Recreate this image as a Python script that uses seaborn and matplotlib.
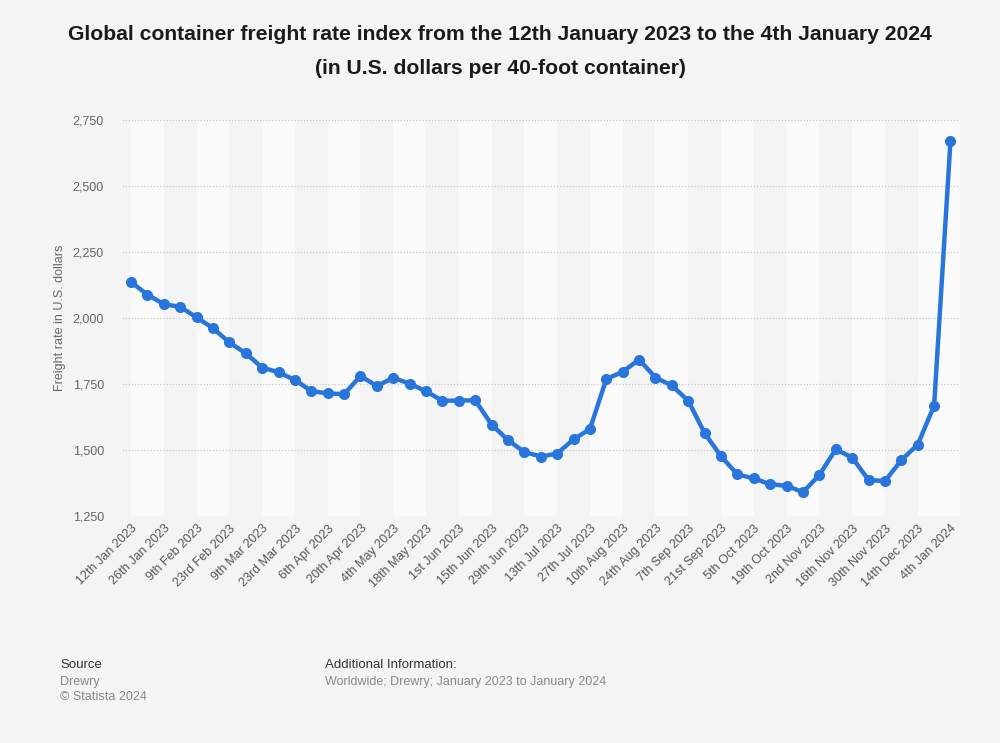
import matplotlib
matplotlib.use("Agg")
import matplotlib.pyplot as plt
import matplotlib.ticker as mticker
import seaborn as sns
import pandas as pd
import numpy as np

# ---- data ----
weeks = [
    "12th Jan 2023", "19th Jan 2023", "26th Jan 2023", "2nd Feb 2023", "9th Feb 2023",
    "16th Feb 2023", "23rd Feb 2023", "2nd Mar 2023", "9th Mar 2023", "16th Mar 2023",
    "23rd Mar 2023", "30th Mar 2023", "6th Apr 2023", "13th Apr 2023", "20th Apr 2023",
    "27th Apr 2023", "4th May 2023", "11th May 2023", "18th May 2023", "25th May 2023",
    "1st Jun 2023", "8th Jun 2023", "15th Jun 2023", "22nd Jun 2023", "29th Jun 2023",
    "6th Jul 2023", "13th Jul 2023", "20th Jul 2023", "27th Jul 2023", "3rd Aug 2023",
    "10th Aug 2023", "17th Aug 2023", "24th Aug 2023", "31st Aug 2023", "7th Sep 2023",
    "14th Sep 2023", "21st Sep 2023", "28th Sep 2023", "5th Oct 2023", "12th Oct 2023",
    "19th Oct 2023", "26th Oct 2023", "2nd Nov 2023", "9th Nov 2023", "16th Nov 2023",
    "23rd Nov 2023", "30th Nov 2023", "7th Dec 2023", "14th Dec 2023", "21st Dec 2023",
    "4th Jan 2024",
]
freight_rate = [
    2135, 2087, 2051, 2041, 2001, 1960, 1906, 1865, 1811, 1793,
    1764, 1722, 1713, 1710, 1779, 1741, 1772, 1750, 1721, 1685,
    1686, 1687, 1595, 1536, 1491, 1474, 1485, 1539, 1578, 1767,
    1795, 1841, 1773, 1743, 1685, 1562, 1475, 1406, 1391, 1369,
    1363, 1339, 1404, 1501, 1470, 1385, 1381, 1460, 1519, 1666,
    2670,
]
y_ticks = [1250, 1500, 1750, 2000, 2250, 2500, 2750]

title_line1 = "Global container freight rate index from the 12th January 2023 to the 4th January 2024"
title_line2 = "(in U.S. dollars per 40-foot container)"
y_label = "Freight rate in U.S. dollars"

df = pd.DataFrame({"week": weeks, "rate": freight_rate})
df["pos"] = np.arange(len(df))

# ---- style ----
BG = "#f4f4f4"
BAND = "#fafafa"
LINE = "#2876dc"
sns.set_theme(style="white")
plt.rcParams["font.family"] = ["Liberation Sans", "DejaVu Sans"]

fig = plt.figure(figsize=(10, 7.43), dpi=100, facecolor=BG)
ax = fig.add_axes([0.122, 0.306, 0.838, 0.533])
ax.set_facecolor(BG)

n = len(df)
xmin, xmax = -0.55, n - 1 + 0.58
# alternating bands, two weeks wide
for k in range(0, n, 4):
    ax.axvspan(k, min(k + 2, xmax) if k + 2 < n - 1 else xmax, color=BAND, lw=0, zorder=0)

sns.lineplot(data=df, x="pos", y="rate", ax=ax, color=LINE, lw=3.2,
             marker="o", markersize=8, markeredgewidth=0, zorder=3)

ax.set_xlim(xmin, xmax)
ax.set_ylim(1250, 2750)
ax.set_yticks(y_ticks)
ax.yaxis.set_major_formatter(mticker.FuncFormatter(lambda v, p: f"{int(v):,}"))
for yv in y_ticks:
    ax.axhline(yv, color="#c8c8c8", lw=0.9, ls=(0, (1, 1.5)), zorder=1)

tick_pos = df["pos"].values[::2]
ax.set_xticks(tick_pos)
ax.set_xticklabels(df["week"].values[::2], rotation=45, ha="right",
                   rotation_mode="anchor", fontsize=9, color="#555555")
ax.tick_params(axis="x", length=0, pad=5)
ax.tick_params(axis="y", length=0, pad=13, labelsize=9, labelcolor="#666666")
ax.set_xlabel("")
ax.set_ylabel(y_label, fontsize=9, color="#666666", labelpad=5)
for s in ax.spines.values():
    s.set_visible(False)

# ---- titles ----
fig.text(0.5, 1 - 35 / 743, title_line1, ha="center", va="center",
         fontsize=15.2, fontweight="bold", color="#1a1a1a")
fig.text(0.5, 1 - 68 / 743, title_line2, ha="center", va="center",
         fontsize=15.2, fontweight="bold", color="#1a1a1a")

# ---- footer ----
fig.text(0.060, 1 - 665 / 743, "Source", ha="left", va="center",
         fontsize=9.5, color="#333333")
fig.text(0.060, 1 - 682 / 743, "Drewry", ha="left", va="center",
         fontsize=9, color="#888888")
fig.text(0.060, 1 - 697 / 743, "\u00a9 Statista 2024", ha="left", va="center",
         fontsize=9, color="#888888")
fig.text(0.325, 1 - 665 / 743, "Additional Information:", ha="left", va="center",
         fontsize=9.5, color="#333333")
fig.text(0.325, 1 - 682 / 743, "Worldwide; Drewry; January 2023 to January 2024",
         ha="left", va="center", fontsize=9, color="#888888")

fig.savefig("out.png", dpi=100, facecolor=BG)
